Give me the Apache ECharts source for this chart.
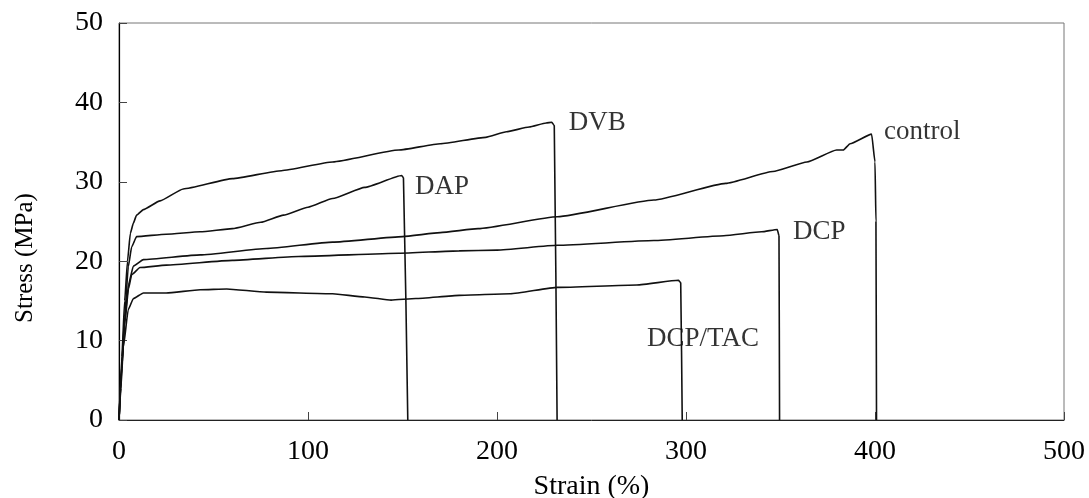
<!DOCTYPE html>
<html>
<head>
<meta charset="utf-8">
<script src="https://cdn.jsdelivr.net/npm/echarts@6/dist/echarts.min.js"></script>
<style>
  html, body { margin: 0; padding: 0; background: #fff; }
  #chart { width: 1089px; height: 498px; }
</style>
</head>
<body>
<div id="chart"></div>
<script>
// stress-strain curves, [strain %, stress MPa]
const control = [[0,0],[1.5,7],[3,12.5],[5,17],[7.6,19.4],[12.9,20.2],[43,20.8],[78,21.6],[113,22.4],[150,23.1],[170,23.6],[190,24.1],[232,25.6],[283,27.7],[321,29.8],[346,31.3],[364,32.5],[379.7,34.0],[383.2,34.0],[386.8,34.8],[398.2,36.0],[400,32.5],[400.5,25],[400.8,0]];
const dvb = [[0,0],[1.5,8],[3,15],[4.5,20],[6,23.5],[7.6,24.8],[9.3,25.8],[12.9,26.5],[21.7,27.6],[34,29.1],[60,30.4],[86,31.4],[113,32.5],[148,34.0],[170,34.8],[194,35.6],[205,36.3],[217,36.9],[226,37.4],[229,37.5],[230.3,37.1],[231.8,0]];
const dap = [[0,0],[1.5,7],[3,13],[4.9,19.3],[6.7,21.8],[9.3,23.1],[25,23.4],[43,23.7],[60,24.1],[75,24.9],[87,25.8],[100,26.8],[113,27.9],[130,29.3],[149.6,30.8],[150.5,30.5],[152.8,0]];
const dcp = [[0,0],[1.5,6.5],[3,12],[5,16.5],[6.7,18.3],[11.1,19.2],[25,19.5],[60,20.1],[95,20.6],[148,21.0],[180,21.3],[200,21.4],[232,22.0],[283,22.6],[320,23.2],[340,23.7],[348.3,24.0],[349.2,23.2],[349.5,0]];
const dcpTac = [[0,0],[1,4],[2.3,9.2],[4.9,13.9],[7.6,15.3],[12.9,16.0],[25,16.0],[43,16.4],[57,16.5],[78,16.1],[113,15.9],[130,15.5],[144,15.1],[157,15.3],[180,15.7],[207,15.9],[232,16.7],[274,17.0],[296,17.6],[297.2,17.3],[298,0]];

// curve labels: text, strain, stress (left-middle anchor)
const curveLabels = [
  ["DVB", 238, 37.4],
  ["DAP", 156.6, 29.3],
  ["control", 404.8, 36.3],
  ["DCP", 356.6, 23.7],
  ["DCP/TAC", 279.4, 10.2]
];

const xTicks = [0, 100, 200, 300, 400, 500];
const yTicks = [0, 10, 20, 30, 40, 50];

const serif = "'Liberation Serif', 'Times New Roman', serif";

let myChart = echarts.init(document.getElementById("chart"));

function curve(name, data) {
  return {
    name: name,
    type: "line",
    data: data,
    showSymbol: false,
    smooth: 0.15,
    smoothMonotone: "x",
    lineStyle: { color: "#111", width: 1.6 },
    animation: false
  };
}

let option = {
  backgroundColor: "#fff",
  animation: false,
  grid: {
    left: 119,
    right: 25,
    top: 23,
    bottom: 78,
    outerBoundsMode: "none",
    containLabel: false,
    show: true,
    borderColor: "#777",
    borderWidth: 1
  },
  xAxis: {
    type: "value",
    min: xTicks[0],
    max: xTicks[xTicks.length - 1],
    interval: 100,
    name: "Strain (%)",
    nameLocation: "middle",
    nameGap: 53,
    nameTextStyle: { fontFamily: serif, fontSize: 28, color: "#000" },
    axisLine: { lineStyle: { color: "#222", width: 1 } },
    axisTick: { inside: true, length: 8, lineStyle: { color: "#444" } },
    axisLabel: { fontFamily: serif, fontSize: 28, color: "#000", margin: 18 },
    splitLine: { show: false }
  },
  yAxis: {
    type: "value",
    min: yTicks[0],
    max: yTicks[yTicks.length - 1],
    interval: 10,
    axisLine: { show: true, lineStyle: { color: "#000", width: 1.2 } },
    axisTick: { show: true, inside: true, length: 8, lineStyle: { color: "#444" } },
    axisLabel: { fontFamily: serif, fontSize: 28, color: "#000", margin: 16 },
    splitLine: { show: false }
  },
  graphic: [
    {
      type: "text",
      x: 25,
      y: 258,
      rotation: Math.PI / 2,
      style: {
        text: "Stress (MPa)",
        font: "25px " + serif,
        fill: "#000",
        align: "center",
        verticalAlign: "middle"
      }
    }
  ],
  series: [
    curve("control", control),
    curve("DVB", dvb),
    curve("DAP", dap),
    curve("DCP", dcp),
    curve("DCP/TAC", dcpTac),
    {
      type: "scatter",
      symbolSize: 0,
      silent: true,
      data: curveLabels.map(function (l) { return { name: l[0], value: [l[1], l[2]] }; }),
      label: {
        show: true,
        position: "right",
        distance: 0,
        formatter: "{b}",
        fontFamily: serif,
        fontSize: 27,
        color: "#000"
      },
      animation: false
    }
  ]
};

if (option && typeof option === "object") myChart.setOption(option);
window.addEventListener("resize", function () {
  myChart.resize();
});
</script>
</body>
</html>
